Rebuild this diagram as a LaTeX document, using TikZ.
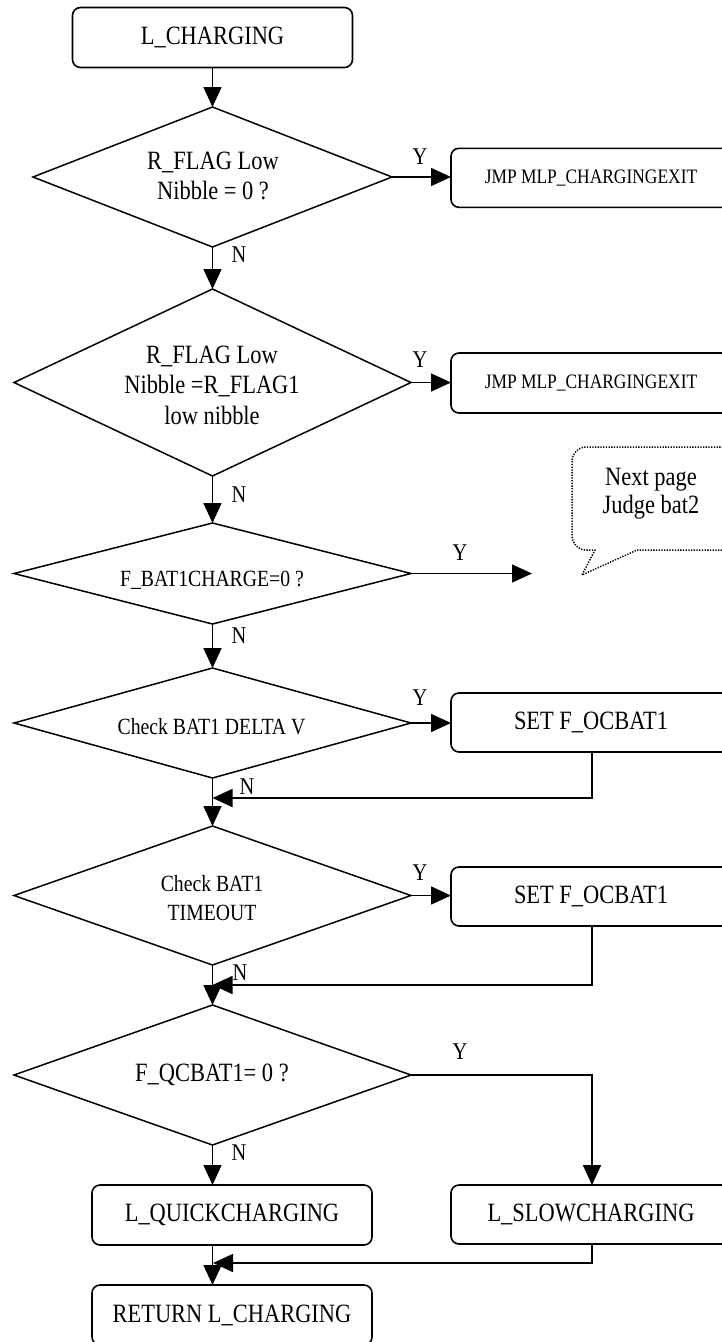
\documentclass[tikz,border=0pt]{standalone}
\usepackage{fontspec}
\setmainfont{Liberation Serif}[FakeStretch=0.85]
\usetikzlibrary{shapes.geometric,arrows.meta}
\newcommand\usc{\textunderscore}
\newcommand\fsmain{\fontsize{26.4pt}{30.5pt}\selectfont}
\newcommand\fssmall{\fontsize{23.2pt}{29pt}\selectfont}
\newcommand\fsjmp{\fontsize{20.5pt}{24pt}\selectfont}
\newcommand\fslbl{\fontsize{24pt}{28pt}\selectfont}
\begin{document}
\begin{tikzpicture}[x=1pt,y=-1pt,
  box/.style={draw, line width=1.6pt, rounded corners=8pt, minimum width=280pt, minimum height=60pt, inner sep=0pt, outer sep=0pt, font=\fsmain},
  dia/.style={draw, diamond, line width=1.5pt, inner sep=0pt, outer sep=0pt},
  dtext/.style={inner sep=0pt, align=center, font=\fsmain},
  flow/.style={line width=1.6pt, -{Triangle[length=20pt,width=18pt]}},
  lbl/.style={inner sep=0pt, font=\fslbl},
  callout/.style={line width=1.5pt, dash pattern=on 1.3pt off 1.4pt}]
\useasboundingbox (0,0) rectangle (722,1342);
\clip (0,0) rectangle (722,1342);

% boxes
\node[box] (start) at (212.5,37.5) {L\usc CHARGING};
\node[box, font=\fsjmp, minimum height=59pt] (jmp1) at (591,177.8) {JMP MLP\usc CHARGINGEXIT};
\node[box, font=\fsjmp] (jmp2) at (591,383) {JMP MLP\usc CHARGINGEXIT};
\node[box, minimum height=59pt] (set1) at (591,722.5) {SET F\usc OCBAT1};
\node[box, minimum height=59pt] (set2) at (591,896.5) {SET F\usc OCBAT1};
\node[box, minimum height=59pt] (slow) at (591,1214.5) {L\usc SLOWCHARGING};
\node[box] (quick) at (232,1215) {L\usc QUICKCHARGING};
\node[box] (ret) at (232,1315) {RETURN L\usc CHARGING};

% diamonds
\node[dia, minimum width=359pt, minimum height=140pt] (d1) at (212.5,177) {};
\node[dia, minimum width=397pt, minimum height=187pt] (d2) at (212.5,382.5) {};
\node[dia, minimum width=397pt, minimum height=101pt] (d3) at (212.5,573.5) {};
\node[dia, minimum width=397pt, minimum height=110pt] (d4) at (212.5,723) {};
\node[dia, minimum width=397pt, minimum height=139pt] (d5) at (212.5,895.5) {};
\node[dia, minimum width=397pt, minimum height=140pt] (d6) at (212.5,1075) {};

\node[dtext] (t1) at (213,176) {R\usc FLAG Low\\Nibble = 0 ?};
\node[dtext] (t2) at (212,385) {R\usc FLAG Low\\Nibble =R\usc FLAG1\\low nibble};
\node[dtext, font=\fssmall] (t3) at (212,580) {F\usc BAT1CHARGE=0 ?};
\node[dtext, font=\fssmall] (t4) at (211.5,727) {Check BAT1 DELTA V};
\node[dtext, font=\fssmall] (t5) at (212,898) {Check BAT1\\TIMEOUT};
\node[dtext] (t6) at (212,1075) {F\usc QCBAT1= 0 ?};

% callout
\draw[callout] (637,550) [rounded corners=14pt] -- (740,550) -- (740,447) -- (572,447) -- (572,550) [sharp corners] -- (595,550) -- (582,575) -- cycle;
\node[dtext, font=\fontsize{26.4pt}{28pt}\selectfont] (cl) at (651,494) {Next page\\Judge bat2};

% connectors
\coordinate (e3) at (532,573.5);
\coordinate (m1) at (212.5,798);
\coordinate (m2) at (212.5,985);
\coordinate (m3) at (213,1263);

\draw[flow] (start.south) -- (d1.north);
\draw[flow] (d1.east) -- (d1.east -| jmp1.west);
\draw[flow] (d1.south) -- (d2.north);
\draw[flow] (d2.east) -- (d2.east -| jmp2.west);
\draw[flow] (d2.south) -- (d3.north);
\draw[flow] (d3.east) -- (e3);
\draw[flow] (d3.south) -- (d4.north);
\draw[flow] (d4.east) -- (d4.east -| set1.west);
\draw[flow] (d4.south) -- (d5.north);
\draw[flow] ([xshift=1pt]set1.south) |- (m1);
\draw[flow] (d5.east) -- (d5.east -| set2.west);
\draw[flow] (d5.south) -- (d6.north);
\draw[flow] ([xshift=1pt]set2.south) |- (m2);
\draw[flow] (d6.east) -| ([xshift=1pt]slow.north);
\draw[flow] (d6.south) -- (d6.south |- quick.north);
\draw[flow] (d6.south |- quick.south) -- (d6.south |- ret.north);
\draw[flow] ([xshift=1pt]slow.south) |- (m3);

% labels
\node[lbl] (y1) at (420,157) {Y};
\node[lbl] (n1) at (239,255) {N};
\node[lbl] (y2) at (420,360) {Y};
\node[lbl] (n2) at (239,495) {N};
\node[lbl] (y3) at (460,553) {Y};
\node[lbl] (n3) at (239,636) {N};
\node[lbl] (y4) at (420,698) {Y};
\node[lbl] (n4) at (247,787) {N};
\node[lbl] (y5) at (420,873) {Y};
\node[lbl] (n5) at (240,973) {N};
\node[lbl] (y6) at (460,1052) {Y};
\node[lbl] (n6) at (239,1153) {N};
\end{tikzpicture}
\end{document}
